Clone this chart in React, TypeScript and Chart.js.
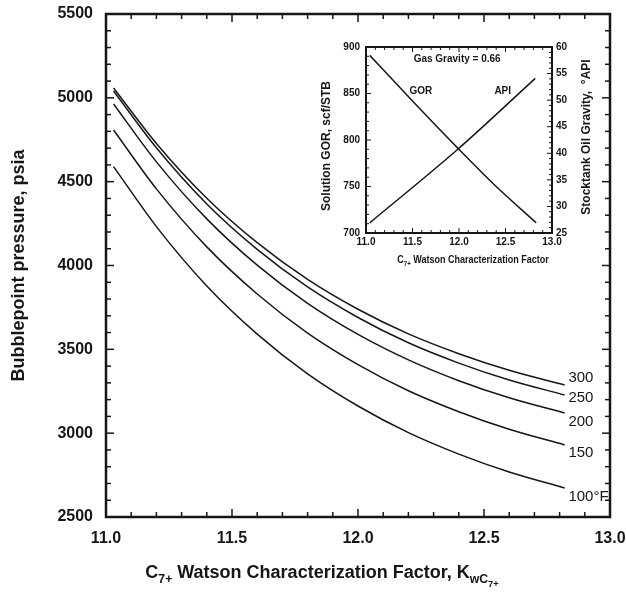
import { useEffect, useRef } from "react";
import { Chart, registerables } from "chart.js";

Chart.register(...registerables);

const FONT = '"Liberation Sans", Arial, Helvetica, sans-serif';
const INK = "#161616";

// ---- Main chart data ----
const kwValues = [11.03, 11.2, 11.4, 11.6, 11.8, 12.0, 12.2, 12.4, 12.6, 12.82];
const pb100 = [4590, 4232, 3878, 3591, 3354, 3162, 3003, 2875, 2768, 2673];
const pb150 = [4808, 4457, 4111, 3830, 3597, 3409, 3253, 3128, 3023, 2930];
const pb200 = [4963, 4618, 4278, 4002, 3774, 3589, 3437, 3313, 3211, 3120];
const pb250 = [5041, 4702, 4367, 4096, 3872, 3690, 3539, 3418, 3317, 3228];
const pb300 = [5059, 4728, 4401, 4136, 3917, 3739, 3592, 3474, 3375, 3287];
const tempNames = ["100°F", "150", "200", "250", "300"];
const tempLabelY = [2620, 2882, 3067, 3210, 3329];
const tempLabelX = 12.835;

// ---- Inset data ----
const gorK = [11.04, 11.5, 11.99, 12.4, 12.83];
const gorValues = [891, 842, 791, 750, 711];
const apiK = [11.04, 11.99, 12.82];
const apiValues = [26.9, 40.8, 54.1];
const gasGravityText = "Gas Gravity = 0.66";

const toPts = (xs: number[], ys: number[]) => xs.map((x, i) => ({ x, y: ys[i] }));

function drawRich(
  ctx: CanvasRenderingContext2D,
  parts: { t: string; lvl: number }[],
  cx: number,
  y: number,
  size: number,
  xScale = 1
) {
  const scale = [1, 0.68, 0.52];
  const drop = [0, 0.28, 0.48];
  let total = 0;
  const widths = parts.map((p) => {
    ctx.font = `bold ${size * scale[p.lvl]}px ${FONT}`;
    const w = ctx.measureText(p.t).width;
    total += w;
    return w;
  });
  ctx.save();
  ctx.translate(cx, y);
  ctx.scale(xScale, 1);
  let x = -total / 2;
  ctx.textAlign = "left";
  ctx.textBaseline = "alphabetic";
  parts.forEach((p, i) => {
    ctx.font = `bold ${size * scale[p.lvl]}px ${FONT}`;
    ctx.fillText(p.t, x, size * drop[p.lvl]);
    x += widths[i];
  });
  ctx.restore();
}

function line(ctx: CanvasRenderingContext2D, x1: number, y1: number, x2: number, y2: number) {
  ctx.beginPath();
  ctx.moveTo(x1, y1);
  ctx.lineTo(x2, y2);
  ctx.stroke();
}

const mainDecor = {
  id: "mainDecor",
  afterDraw(chart: any) {
    const { ctx, chartArea: a, scales } = chart;
    const xs = scales.x;
    const ys = scales.y;
    ctx.save();
    ctx.strokeStyle = INK;
    ctx.fillStyle = INK;
    ctx.lineWidth = 1.5;
    for (let i = 0; i <= 20; i++) {
      const px = xs.getPixelForValue(11 + i * 0.1);
      const len = i % 5 === 0 ? 8 : 5;
      line(ctx, px, a.bottom, px, a.bottom - len);
      line(ctx, px, a.top, px, a.top + len);
    }
    for (let i = 0; i <= 30; i++) {
      const py = ys.getPixelForValue(2500 + i * 100);
      const len = i % 5 === 0 ? 8 : 5;
      line(ctx, a.left, py, a.left + len, py);
      line(ctx, a.right, py, a.right - len, py);
    }
    ctx.lineWidth = 2.5;
    ctx.strokeRect(a.left, a.top, a.right - a.left, a.bottom - a.top);

    // curve labels
    ctx.font = `15px ${FONT}`;
    ctx.textAlign = "left";
    ctx.textBaseline = "middle";
    tempNames.forEach((n, i) => {
      ctx.fillText(n, xs.getPixelForValue(tempLabelX), ys.getPixelForValue(tempLabelY[i]));
    });

    // y title
    ctx.save();
    ctx.translate(19, (a.top + a.bottom) / 2);
    ctx.rotate(-Math.PI / 2);
    ctx.font = `bold 18px ${FONT}`;
    ctx.textAlign = "center";
    ctx.textBaseline = "middle";
    ctx.fillText("Bubblepoint pressure, psia", 0, 0);
    ctx.restore();

    // x title
    drawRich(
      ctx,
      [
        { t: "C", lvl: 0 },
        { t: "7+", lvl: 1 },
        { t: " Watson Characterization Factor, K", lvl: 0 },
        { t: "wC", lvl: 1 },
        { t: "7+", lvl: 2 },
      ],
      322,
      578,
      18
    );
    ctx.restore();
  },
};

const insetDecor = {
  id: "insetDecor",
  afterDraw(chart: any) {
    const { ctx, chartArea: a, scales } = chart;
    const xs = scales.x;
    const ys = scales.y;
    const y2 = scales.y2;
    ctx.save();
    ctx.strokeStyle = INK;
    ctx.fillStyle = INK;
    ctx.lineWidth = 1;
    for (let i = 0; i <= 20; i++) {
      const px = xs.getPixelForValue(11 + i * 0.1);
      const len = i % 5 === 0 ? 5 : 3;
      line(ctx, px, a.bottom, px, a.bottom - len);
      line(ctx, px, a.top, px, a.top + len);
    }
    for (let i = 0; i <= 20; i++) {
      const py = ys.getPixelForValue(700 + i * 10);
      const len = i % 5 === 0 ? 5 : 3;
      line(ctx, a.left, py, a.left + len, py);
    }
    for (let i = 0; i <= 35; i++) {
      const py = y2.getPixelForValue(25 + i);
      const len = i % 5 === 0 ? 5 : 3;
      line(ctx, a.right, py, a.right - len, py);
    }
    ctx.lineWidth = 2;
    ctx.strokeRect(a.left, a.top, a.right - a.left, a.bottom - a.top);

    ctx.font = `bold 10px ${FONT}`;
    ctx.textAlign = "center";
    ctx.textBaseline = "middle";
    ctx.fillText(gasGravityText, xs.getPixelForValue(11.98), ys.getPixelForValue(887));
    ctx.fillText("GOR", xs.getPixelForValue(11.59), ys.getPixelForValue(852));
    ctx.fillText("API", xs.getPixelForValue(12.47), ys.getPixelForValue(852));

    ctx.font = `bold 12px ${FONT}`;
    ctx.save();
    ctx.translate(27, 111);
    ctx.rotate(-Math.PI / 2);
    ctx.fillText("Solution GOR, scf/STB", 0, 0);
    ctx.restore();
    ctx.save();
    ctx.translate(287, 102);
    ctx.rotate(-Math.PI / 2);
    ctx.fillText("Stocktank Oil Gravity,  °API", 0, 0);
    ctx.restore();

    drawRich(
      ctx,
      [
        { t: "C", lvl: 0 },
        { t: "7+", lvl: 1 },
        { t: " Watson Characterization Factor", lvl: 0 },
      ],
      173,
      228,
      11,
      0.82
    );
    ctx.restore();
  },
};

export default function App() {
  const mainRef = useRef<HTMLCanvasElement>(null);
  const insetRef = useRef<HTMLCanvasElement>(null);

  useEffect(() => {
    document.body.style.margin = "0";
    const lineDs = (label: string, ys: number[]) => ({
      label,
      data: toPts(kwValues, ys),
      borderColor: INK,
      borderWidth: 1.5,
      pointRadius: 0,
      fill: false,
      tension: 0.4,
      cubicInterpolationMode: "monotone" as const,
    });

    const tickFont = { family: FONT, size: 16, weight: "bold" as const };
    const main = new Chart(mainRef.current!, {
      type: "line",
      data: {
        datasets: [
          lineDs("100", pb100),
          lineDs("150", pb150),
          lineDs("200", pb200),
          lineDs("250", pb250),
          lineDs("300", pb300),
        ],
      },
      options: {
        responsive: false,
        animation: false,
        layout: { padding: { left: 0, right: 16, top: 14, bottom: 0 } },
        plugins: { legend: { display: false }, tooltip: { enabled: false } },
        scales: {
          x: {
            type: "linear",
            min: 11,
            max: 13,
            grid: { display: false, drawTicks: false },
            border: { display: false },
            ticks: {
              stepSize: 0.5,
              autoSkip: false,
              maxRotation: 0,
              padding: 12,
              color: INK,
              font: tickFont,
              callback: (v: any) => Number(v).toFixed(1),
            },
            afterFit: (s: any) => {
              s.height = 79;
              s.paddingLeft = 0;
              s.paddingRight = 0;
            },
          },
          y: {
            type: "linear",
            min: 2500,
            max: 5500,
            grid: { display: false, drawTicks: false },
            border: { display: false },
            ticks: {
              stepSize: 500,
              autoSkip: false,
              padding: 13,
              color: INK,
              font: tickFont,
              callback: (v: any) => String(v),
            },
            afterFit: (s: any) => {
              s.width = 106;
              s.paddingTop = 0;
              s.paddingBottom = 0;
            },
          },
        },
      },
      plugins: [mainDecor],
    });

    const insetFont = { family: FONT, size: 10, weight: "bold" as const };
    const inset = new Chart(insetRef.current!, {
      type: "line",
      data: {
        datasets: [
          {
            label: "GOR",
            data: toPts(gorK, gorValues),
            yAxisID: "y",
            borderColor: INK,
            borderWidth: 1.5,
            pointRadius: 0,
            tension: 0.4,
            cubicInterpolationMode: "monotone",
          },
          {
            label: "API",
            data: toPts(apiK, apiValues),
            yAxisID: "y2",
            borderColor: INK,
            borderWidth: 1.5,
            pointRadius: 0,
            tension: 0.4,
            cubicInterpolationMode: "monotone",
          },
        ],
      },
      options: {
        responsive: false,
        animation: false,
        layout: { padding: { left: 0, right: 0, top: 12, bottom: 0 } },
        plugins: { legend: { display: false }, tooltip: { enabled: false } },
        scales: {
          x: {
            type: "linear",
            min: 11,
            max: 13,
            grid: { display: false, drawTicks: false },
            border: { display: false },
            ticks: {
              stepSize: 0.5,
              autoSkip: false,
              maxRotation: 0,
              padding: 3,
              color: INK,
              font: insetFont,
              callback: (v: any) => Number(v).toFixed(1),
            },
            afterFit: (s: any) => {
              s.height = 42;
              s.paddingLeft = 0;
              s.paddingRight = 0;
            },
          },
          y: {
            type: "linear",
            position: "left",
            min: 700,
            max: 900,
            grid: { display: false, drawTicks: false },
            border: { display: false },
            ticks: {
              stepSize: 50,
              autoSkip: false,
              padding: 6,
              color: INK,
              font: insetFont,
            },
            afterFit: (s: any) => {
              s.width = 66;
              s.paddingTop = 0;
              s.paddingBottom = 0;
            },
          },
          y2: {
            type: "linear",
            position: "right",
            min: 25,
            max: 60,
            grid: { display: false, drawTicks: false },
            border: { display: false },
            ticks: {
              stepSize: 5,
              autoSkip: false,
              padding: 4,
              color: INK,
              font: insetFont,
            },
            afterFit: (s: any) => {
              s.width = 48;
              s.paddingTop = 0;
              s.paddingBottom = 0;
            },
          },
        },
      },
      plugins: [insetDecor],
    });

    return () => {
      main.destroy();
      inset.destroy();
    };
  }, []);

  return (
    <div style={{ position: "absolute", left: 0, top: 0, width: 626, height: 596, background: "#fff" }}>
      <canvas
        ref={mainRef}
        width={626}
        height={596}
        style={{ position: "absolute", left: 0, top: 0, width: 626, height: 596 }}
      />
      <canvas
        ref={insetRef}
        width={300}
        height={240}
        style={{ position: "absolute", left: 300, top: 35, width: 300, height: 240 }}
      />
    </div>
  );
}
